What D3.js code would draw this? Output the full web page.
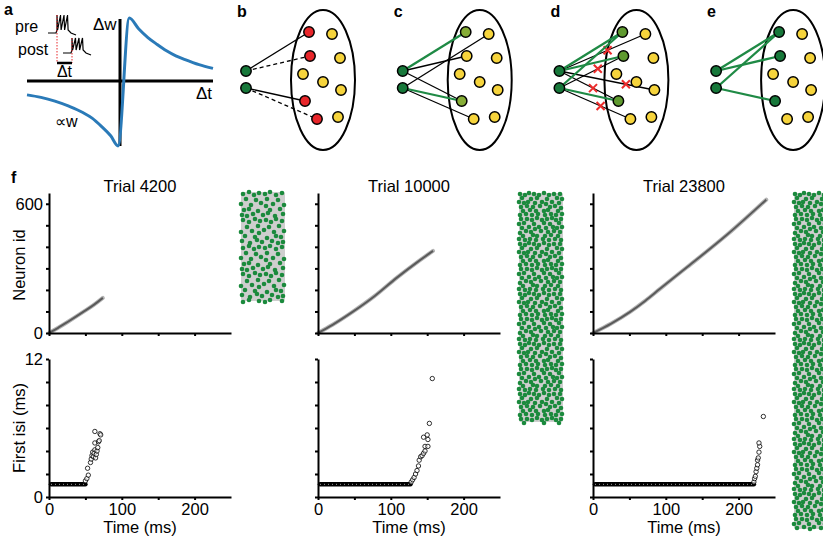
<!DOCTYPE html>
<html>
<head>
<meta charset="UTF-8">
<title></title>
<style>
body{margin:0;background:#fff;}
svg{display:block;font-family:"Liberation Sans",Arial,sans-serif;}
</style>
</head>
<body>
<div id="fig"></div>
<script src="https://cdnjs.cloudflare.com/ajax/libs/d3/7.8.5/d3.min.js"></script>
<script>
// ---- data ----
// panel a: STDP window (dt, dw)
var stdpLeft = [[-1,-0.22],[-0.85,-0.26],[-0.7,-0.32],[-0.55,-0.40],[-0.4,-0.50],[-0.3,-0.59],[-0.2,-0.72],[-0.1,-0.87],[-0.02,-1.03]];
var stdpRight = [[0.1,1.0],[0.2,0.83],[0.3,0.69],[0.4,0.58],[0.5,0.48],[0.6,0.40],[0.7,0.34],[0.85,0.26],[1.0,0.2]];
var burstSpikes = [0, 3.5, 7, 10.5];
var postDelay = 15;

// panels b-e: network cartoon
var nodeOffsets = [[-14,-48],[9,-46],[-13,-24],[17,-22],[-20,-6],[0,2],[18,10],[-18,21],[15,37],[-6,39]];
var inputOffsets = [[-77,-9],[-77,8]];
var netLabels = ["b","c","d","e"];
var netNodeColors = [
  ["r","y","r","y","y","y","y","r","y","r"],
  ["g1","y","y","y","y","y","y","g1","y","y"],
  ["g2","y","g2","y","y","y","y","g2","y","y"],
  ["g3","y","g3","y","y","y","y","g3","y","y"]
];
// [input, node, style, cross position along edge]
var netEdges = [
  [[0,0,"k"],[0,2,"dash"],[1,7,"k"],[1,9,"dash"]],
  [[0,2,"k"],[0,7,"k"],[1,1,"k"],[1,9,"k"],[0,0,"g"],[1,7,"g"]],
  [[0,1,"k",0.56],[1,2,"k",0.6],[0,6,"k",0.7],[0,7,"k",0.57],[1,9,"k",0.58],[0,0,"g"],[0,2,"g"],[1,0,"g"],[1,7,"g"]],
  [[0,0,"g"],[0,2,"g"],[1,0,"g"],[1,7,"g"]]
];

// panel f
var trialTitles = ["Trial 4200", "Trial 10000", "Trial 23800"];
var rasters = [
  [[0,0],[12,23],[25,50],[47,98],[62,132],[74,163]],
  [[0,0],[20,38],[48,99],[78,172],[108,256],[136,328],[158,381]],
  [[0,0],[25,44],[51,98],[72,150],[92,205],[129,305],[184,456],[238,619]]
];
var isiFlatEnd = [50, 127, 221];
var isiFlatValue = 1.1;
var isiTails = [
  [[50,1.4],[52,1.6],[54,1.9],[53,2.5],[57,3.0],[58,3.3],[59,3.6],[60,3.9],[61,3.5],[62,3.8],[63,4.1],[64,3.4],[63,4.7],[65,3.7],[66,4.0],[67,4.3],[68,4.8],[69,4.9],[63,5.7],[70,5.5],[71,5.4]],
  [[128,1.3],[130,1.5],[132,1.7],[134,2.0],[136,2.3],[138,2.7],[139,3.2],[141,3.5],[143,3.6],[145,3.8],[147,4.0],[147,4.4],[151,4.4],[145,5.2],[150,5.4],[151,5.0],[153,6.4],[157,10.3]],
  [[221,1.3],[222,1.6],[223,1.8],[224,2.2],[225,2.5],[226,2.8],[226,3.2],[227,3.4],[228,3.9],[229,4.4],[228,4.7],[234,7.0]]
];
var neuronTicks = [0,100,200,300,400,500,600];
var isiTicks = [0,2,4,6,8,10,12];
var timeTicks = [0,50,100,150,200];

// dot tiles for the network columns
var sparseTile = [[3,3],[9,1],[14,4],[19,2],[25,3],[30,1],[36,4],[42,2],[6,8],[16,9],[27,8],[38,9],
  [1,13],[11,14],[21,12],[26,15],[33,13],[44,14],[4,19],[9,18],[18,20],[30,19],[40,18],
  [2,24],[7,25],[13,23],[23,24],[28,22],[35,25],[43,23]];
var denseTile = [[2,2],[7,3],[11,1],[16,2],[21,3],[26,1],[31,3],[36,2],[42,2],[4,6],[13,7],[19,6],[29,7],[39,6],[44,7],
  [1,10],[6,11],[10,10],[17,11],[24,10],[28,12],[34,10],[41,11],[3,15],[9,14],[15,15],[22,14],[32,15],[37,14],[43,16],
  [5,19],[12,18],[18,19],[26,19],[30,18],[40,19],[2,23],[8,22],[14,23],[20,22],[27,23],[33,22],[38,23],[44,22]];

// ---- drawing ----
var W = 823, H = 542;
var svg = d3.select("#fig").append("svg").attr("width", W).attr("height", H);

var colors = {r:"#e8262a", y:"#f6d43c", g1:"#86ad36", g2:"#5f9a2f", g3:"#17783a", input:"#17783a", edge:"#1f8a45", blue:"#2a7ab8"};
var FS = 16.5;

function panelLabel(t, x, y){
  svg.append("text").attr("x", x).attr("y", y).attr("font-size", 16).attr("font-weight", "bold").text(t);
}

// panel a
panelLabel("a", 4, 15);
var xA = d3.scaleLinear().domain([-1,1]).range([27,213]);
var yA = d3.scaleLinear().domain([-1,1]).range([144,18]);
svg.append("line").attr("x1", xA(-1)).attr("x2", xA(1)).attr("y1", yA(0)).attr("y2", yA(0)).attr("stroke","#000").attr("stroke-width",3);
svg.append("line").attr("x1", xA(0)).attr("x2", xA(0)).attr("y1", 19).attr("y2", 146).attr("stroke","#000").attr("stroke-width",3);
svg.append("path").datum(stdpLeft.concat(stdpRight))
  .attr("d", d3.line().x(d => xA(d[0])).y(d => yA(d[1])).curve(d3.curveMonotoneX))
  .attr("fill","none").attr("stroke", colors.blue).attr("stroke-width",3);
svg.append("text").attr("x",93).attr("y",30).attr("font-size",17).text("Δw");
svg.append("text").attr("x",196).attr("y",99).attr("font-size",17).text("Δt");
svg.append("text").attr("x",55).attr("y",127).attr("font-size",16).text("∝w");
svg.append("text").attr("x",15).attr("y",32).attr("font-size",16).text("pre");
svg.append("text").attr("x",18).attr("y",55).attr("font-size",16).text("post");

// inset traces
var xI = d3.scaleLinear().domain([0,1]).range([57,58]);
function trace(onset, base, top){
  var p = d3.path();
  p.moveTo(xI(onset-9), base);
  p.lineTo(xI(onset-1), base);
  p.lineTo(xI(onset), base-3);
  burstSpikes.forEach(function(s){
    p.lineTo(xI(onset+s), top);
    p.lineTo(xI(onset+s+0.6), base-3);
  });
  p.lineTo(xI(onset+14), base);
  p.lineTo(xI(onset+19), base+2);
  return p.toString();
}
svg.append("path").attr("d", trace(0, 33, 15)).attr("fill","none").attr("stroke","#000").attr("stroke-width",1.2);
svg.append("path").attr("d", trace(postDelay, 53, 38)).attr("fill","none").attr("stroke","#000").attr("stroke-width",1.2);
[[0,15],[postDelay,38]].forEach(function(d){
  svg.append("line").attr("x1", xI(d[0])).attr("x2", xI(d[0])).attr("y1", d[1]).attr("y2", 63)
    .attr("stroke","#e8262a").attr("stroke-width",1).attr("stroke-dasharray","1.5,1.5");
});
svg.append("line").attr("x1", xI(0)).attr("x2", xI(postDelay)).attr("y1",63).attr("y2",63).attr("stroke","#000").attr("stroke-width",2.5);
svg.append("text").attr("x", xI(postDelay/2)).attr("y",77).attr("text-anchor","middle").attr("font-size",16).text("Δt");

// panels b-e
netLabels.forEach(function(lab, p){
  var cx = 323 + p*156.7, cy = 80;
  panelLabel(lab, cx-86, 17);
  var g = svg.append("g");
  g.append("ellipse").attr("cx",cx).attr("cy",cy).attr("rx",32).attr("ry",70).attr("fill","none").attr("stroke","#000").attr("stroke-width",2);
  var ins = inputOffsets.map(o => [cx+o[0], cy+o[1]]);
  var nodes = nodeOffsets.map(o => [cx+o[0], cy+o[1]]);
  netEdges[p].forEach(function(e){
    var a = ins[e[0]], b = nodes[e[1]];
    var l = g.append("line").attr("x1",a[0]).attr("y1",a[1]).attr("x2",b[0]).attr("y2",b[1]);
    if (e[2] === "g") l.attr("stroke", colors.edge).attr("stroke-width",2.3);
    else l.attr("stroke","#000").attr("stroke-width",1.3);
    if (e[2] === "dash") l.attr("stroke-dasharray","4,3");
    if (e[3] !== undefined){
      var mx = a[0] + (b[0]-a[0])*e[3], my = a[1] + (b[1]-a[1])*e[3];
      g.append("path").attr("d","M"+(mx-4)+","+(my-4)+"L"+(mx+4)+","+(my+4)+"M"+(mx+4)+","+(my-4)+"L"+(mx-4)+","+(my+4))
        .attr("stroke","#ec2b2b").attr("stroke-width",2);
    }
  });
  g.selectAll("circle.n").data(nodes).enter().append("circle")
    .attr("cx", d => d[0]).attr("cy", d => d[1]).attr("r",5.2)
    .attr("fill", (d,i) => colors[netNodeColors[p][i]]).attr("stroke","#000").attr("stroke-width",1.5);
  g.selectAll("circle.i").data(ins).enter().append("circle")
    .attr("cx", d => d[0]).attr("cy", d => d[1]).attr("r",5.2)
    .attr("fill", colors.input).attr("stroke","#000").attr("stroke-width",1.5);
});

// panel f
panelLabel("f", 11, 183);
var plotX = [49, 318, 593];
var colX = [240, 518, 793], colTop = [191, 192, 192], colH = [111, 231, 338];
var colTiles = [sparseTile, denseTile, denseTile];

trialTitles.forEach(function(title, k){
  var x = d3.scaleLinear().domain([0,250]).range([plotX[k], plotX[k]+182]);
  var yN = d3.scaleLinear().domain([0,650]).range([333,193]);
  var yI = d3.scaleLinear().domain([0,12]).range([497,359]);

  svg.append("text").attr("x", x(125)).attr("y", 192).attr("text-anchor","middle").attr("font-size",16.5).text(title);

  // raster
  var rl = d3.line().x(d => x(d[0])).y(d => yN(d[1])).curve(d3.curveMonotoneX);
  svg.append("path").datum(rasters[k]).attr("d", rl).attr("fill","none").attr("stroke","#b4b4b4").attr("stroke-width",4).attr("stroke-linecap","round");
  svg.append("path").datum(rasters[k]).attr("d", rl).attr("fill","none").attr("stroke","#5a5a5a").attr("stroke-width",2);

  // first isi: dense flat band then rising tail
  svg.append("line").attr("x1", x(0)+2).attr("x2", x(isiFlatEnd[k])).attr("y1", yI(isiFlatValue)).attr("y2", yI(isiFlatValue))
    .attr("stroke","#000").attr("stroke-width",4.5).attr("stroke-linecap","round");
  svg.append("line").attr("x1", x(0)+2).attr("x2", x(isiFlatEnd[k])-1).attr("y1", yI(isiFlatValue)).attr("y2", yI(isiFlatValue))
    .attr("stroke","#fff").attr("stroke-width",1).attr("stroke-dasharray","1,3").attr("opacity",0.6);
  svg.selectAll(null).data(isiTails[k]).enter().append("circle")
    .attr("cx", d => x(d[0])).attr("cy", d => yI(d[1])).attr("r",2.2)
    .attr("fill","#fff").attr("fill-opacity",0.6).attr("stroke","#000").attr("stroke-width",0.8);

  // axes
  var axN = d3.axisLeft(yN).tickValues(neuronTicks).tickSize(3).tickSizeOuter(0).tickPadding(3)
    .tickFormat(d => (k === 0 && (d === 0 || d === 600)) ? d : "");
  var axI = d3.axisLeft(yI).tickValues(isiTicks).tickSize(3).tickSizeOuter(0).tickPadding(3)
    .tickFormat(d => (k === 0 && (d === 0 || d === 12)) ? d : "");
  var axT1 = d3.axisBottom(x).tickValues(timeTicks).tickSize(3).tickSizeOuter(0).tickFormat("");
  var axT2 = d3.axisBottom(x).tickValues(timeTicks).tickSize(3).tickSizeOuter(0).tickPadding(3)
    .tickFormat(d => d % 100 === 0 ? d : "");
  [[axN,"translate("+plotX[k]+",0)"],[axI,"translate("+plotX[k]+",0)"],[axT1,"translate(0,333)"],[axT2,"translate(0,497)"]].forEach(function(a){
    var gA = svg.append("g").attr("transform", a[1]).call(a[0]);
    gA.selectAll("path,line").attr("stroke","#000").attr("stroke-width",2);
    gA.selectAll("text").attr("font-size",FS).attr("font-family","Liberation Sans, Arial, sans-serif").attr("fill","#000");
  });
  svg.append("text").attr("x", x(125)).attr("y", 533).attr("text-anchor","middle").attr("font-size",FS).text("Time (ms)");

  // network column
  var cg = svg.append("g");
  cg.append("rect").attr("x", colX[k]+1).attr("y", colTop[k]+1).attr("width",44).attr("height",colH[k]-2).attr("fill","#cecece").attr("rx",2);
  var tile = colTiles[k], th = d3.max(tile, d => d[1]) + 2;
  var dots = [];
  for (var t = 0; t*th < colH[k]; t++){
    tile.forEach(function(d){
      var dy = t*th + d[1];
      if (dy <= colH[k]) dots.push([t % 2 ? 45 - d[0] : d[0], dy]);
    });
  }
  cg.selectAll("circle").data(dots).enter().append("circle")
    .attr("cx", d => colX[k] + d[0]).attr("cy", d => colTop[k] + d[1]).attr("r",2.3).attr("fill","#1b8a3d");
});

svg.append("text").attr("transform","translate(25,265) rotate(-90)").attr("text-anchor","middle").attr("font-size",FS).text("Neuron id");
svg.append("text").attr("transform","translate(25,428) rotate(-90)").attr("text-anchor","middle").attr("font-size",FS).text("First isi (ms)");
</script>
</body>
</html>
